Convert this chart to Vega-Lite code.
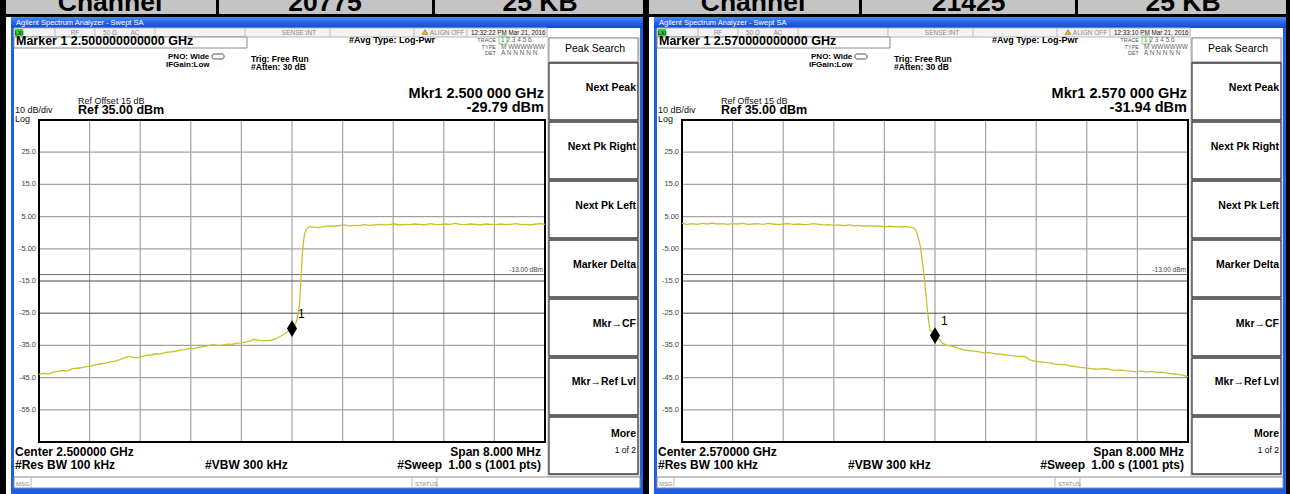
{
 "$schema": "https://vega.github.io/schema/vega-lite/v6.json",
 "width": 1290, "height": 494,
 "autosize": {"type": "none"},
 "padding": 0,
 "background": "#ffffff",
 "config": {"view": {"stroke": null}, "font": "Liberation Sans", "text": {"font": "Liberation Sans"}},
 "datasets": {
  "hgray": [{"f":-4.522,"f2":5.549,"db":76,"db2":67.92}],
  "blk": [
   {"f":-4.617,"f2":-4.522,"db":76,"db2":-86},
   {"f":5.549,"f2":5.644,"db":76,"db2":-86},
   {"f":-4.617,"f2":5.644,"db":67.92,"db2":66.99},
   {"f":-1.202,"f2":-1.154,"db":76,"db2":67.5},
   {"f":2.213,"f2":2.261,"db":76,"db2":67.5}
  ],
  "blue": [
   {"f":-4.443,"f2":-4.395,"db":66.99,"db2":-86},
   {"f":5.502,"f2":5.549,"db":66.99,"db2":-86},
   {"f":-4.443,"f2":5.549,"db":-79.29,"db2":-86}
  ],
  "tbar": [{"f":-4.443,"f2":5.549,"db":66.99,"db2":63.57}],
  "status": [{"f":-4.395,"f2":4.032,"db":63.57,"db2":60.78}],
  "col": [{"f":4.032,"f2":5.502,"db":60.78,"db2":-75.87}],
  "wbox": [
   {"f":-4.395,"f2":-0.711,"db":60.78,"db2":57.36},
   {"f":4.063,"f2":5.47,"db":60.47,"db2":53.01},
   {"f":-4.395,"f2":5.502,"db":-75.87,"db2":-79.29}
  ],
  "btn": [
   {"f":4.063,"f2":5.47,"db":52.7,"db2":35.0},
   {"f":4.063,"f2":5.47,"db":34.38,"db2":16.68},
   {"f":4.063,"f2":5.47,"db":16.06,"db2":-1.65},
   {"f":4.063,"f2":5.47,"db":-2.27,"db2":-19.97},
   {"f":4.063,"f2":5.47,"db":-20.59,"db2":-38.29},
   {"f":4.063,"f2":5.47,"db":-38.91,"db2":-56.61},
   {"f":4.063,"f2":5.47,"db":-57.24,"db2":-74.94}
  ],
  "lxi": [{"f":-4.379,"f2":-4.253,"db":63.26,"db2":61.09}],
  "hl": [{"f":3.273,"f2":3.399,"db":61.09,"db2":58.6}],
  "icon": [{"f":-1.265,"f2":-1.075,"db":55.5,"db2":53.94}],
  "sdiv": [
   {"f":-4.253,"db":63.57,"db2":60.78},{"f":-3.747,"db":63.57,"db2":60.78},{"f":-3.115,"db":63.57,"db2":60.78},
   {"f":-2.166,"db":63.57,"db2":60.78},{"f":-0.743,"db":63.57,"db2":60.78},{"f":0.601,"db":63.57,"db2":60.78},
   {"f":1.929,"db":63.57,"db2":60.78},{"f":2.767,"db":63.57,"db2":60.78}
  ],
  "mdiv": [{"f":-4.126,"db":-75.87,"db2":-79.29},{"f":1.897,"db":-75.87,"db2":-79.29},{"f":2.292,"db":-75.87,"db2":-79.29}],
  "vg": [
   {"f":-3.2,"db":-65,"db2":35},{"f":-2.4,"db":-65,"db2":35},{"f":-1.6,"db":-65,"db2":35},
   {"f":-0.8,"db":-65,"db2":35},{"f":0,"db":-65,"db2":35},{"f":0.8,"db":-65,"db2":35},
   {"f":1.6,"db":-65,"db2":35},{"f":2.4,"db":-65,"db2":35},{"f":3.2,"db":-65,"db2":35}
  ],
  "hg": [
   {"f":-4,"f2":4,"db":25},{"f":-4,"f2":4,"db":15},{"f":-4,"f2":4,"db":5},{"f":-4,"f2":4,"db":-5},
   {"f":-4,"f2":4,"db":-35},{"f":-4,"f2":4,"db":-45},{"f":-4,"f2":4,"db":-55}
  ],
  "hgd": [{"f":-4,"f2":4,"db":-15},{"f":-4,"f2":4,"db":-25}],
  "dl": [{"f":-4,"f2":4,"db":-13}],
  "frame": [{"f":-4,"f2":4,"db":-65,"db2":35}],
  "tri": [{"f":2.103,"db":62.33}],
  "mk": [{"p":"L","f":0,"db":-29.79},{"p":"R","f":0,"db":-31.94}],
  "trL": [
   {"f":-4.00,"db":-44.0},{"f":-3.92,"db":-43.7},{"f":-3.85,"db":-43.9},{"f":-3.78,"db":-43.3},{"f":-3.70,"db":-43.1},
   {"f":-3.62,"db":-42.8},{"f":-3.55,"db":-42.9},{"f":-3.48,"db":-42.3},{"f":-3.40,"db":-42.1},{"f":-3.32,"db":-41.9},
   {"f":-3.25,"db":-41.6},{"f":-3.18,"db":-41.4},{"f":-3.10,"db":-41.0},{"f":-3.02,"db":-40.7},{"f":-2.95,"db":-40.5},
   {"f":-2.88,"db":-40.1},{"f":-2.80,"db":-39.9},{"f":-2.72,"db":-39.4},{"f":-2.65,"db":-38.9},{"f":-2.60,"db":-38.5},
   {"f":-2.55,"db":-38.5},{"f":-2.50,"db":-38.8},{"f":-2.44,"db":-38.9},{"f":-2.38,"db":-38.5},{"f":-2.30,"db":-38.1},
   {"f":-2.22,"db":-37.9},{"f":-2.15,"db":-37.6},{"f":-2.08,"db":-37.7},{"f":-2.00,"db":-37.2},{"f":-1.92,"db":-37.0},
   {"f":-1.85,"db":-36.9},{"f":-1.78,"db":-36.5},{"f":-1.70,"db":-36.3},{"f":-1.62,"db":-35.9},{"f":-1.55,"db":-36.0},
   {"f":-1.48,"db":-35.6},{"f":-1.40,"db":-35.4},{"f":-1.32,"db":-35.1},{"f":-1.25,"db":-34.8},{"f":-1.18,"db":-35.0},
   {"f":-1.10,"db":-34.9},{"f":-1.02,"db":-34.6},{"f":-0.95,"db":-34.7},{"f":-0.88,"db":-34.4},{"f":-0.80,"db":-34.2},
   {"f":-0.72,"db":-33.9},{"f":-0.65,"db":-33.5},{"f":-0.60,"db":-33.1},{"f":-0.55,"db":-33.3},{"f":-0.48,"db":-33.6},
   {"f":-0.40,"db":-33.5},{"f":-0.33,"db":-33.4},{"f":-0.26,"db":-33.0},{"f":-0.20,"db":-32.4},{"f":-0.14,"db":-31.7},
   {"f":-0.08,"db":-30.9},{"f":-0.04,"db":-30.3},{"f":0.00,"db":-29.79},{"f":0.04,"db":-28.9},{"f":0.07,"db":-27.6},
   {"f":0.10,"db":-25.0},{"f":0.12,"db":-22.0},{"f":0.14,"db":-15.0},{"f":0.16,"db":-7.5},{"f":0.18,"db":-3.0},
   {"f":0.20,"db":-0.2},{"f":0.23,"db":1.2},{"f":0.28,"db":1.9},{"f":0.35,"db":1.7},{"f":0.42,"db":1.6},
   {"f":0.50,"db":1.9},{"f":0.58,"db":2.1},{"f":0.66,"db":2.0},{"f":0.74,"db":2.2},{"f":0.82,"db":2.4},
   {"f":0.90,"db":2.1},{"f":0.98,"db":2.3},{"f":1.06,"db":2.2},{"f":1.14,"db":2.5},{"f":1.22,"db":2.3},
   {"f":1.30,"db":2.4},{"f":1.38,"db":2.6},{"f":1.46,"db":2.4},{"f":1.54,"db":2.5},{"f":1.62,"db":2.7},
   {"f":1.70,"db":2.4},{"f":1.78,"db":2.6},{"f":1.86,"db":2.5},{"f":1.94,"db":2.7},{"f":2.02,"db":2.6},
   {"f":2.10,"db":2.4},{"f":2.18,"db":2.8},{"f":2.26,"db":2.6},{"f":2.34,"db":2.5},{"f":2.42,"db":2.7},
   {"f":2.50,"db":2.6},{"f":2.58,"db":2.9},{"f":2.66,"db":2.6},{"f":2.74,"db":2.5},{"f":2.82,"db":2.7},
   {"f":2.90,"db":2.6},{"f":2.98,"db":2.4},{"f":3.06,"db":2.7},{"f":3.14,"db":2.6},{"f":3.22,"db":2.5},
   {"f":3.30,"db":2.7},{"f":3.38,"db":2.5},{"f":3.46,"db":2.6},{"f":3.54,"db":2.8},{"f":3.62,"db":2.5},
   {"f":3.70,"db":2.6},{"f":3.78,"db":2.4},{"f":3.86,"db":2.7},{"f":3.94,"db":2.8},{"f":4.00,"db":2.6}
  ],
  "trR": [
   {"f":-4.00,"db":2.9},{"f":-3.92,"db":2.6},{"f":-3.84,"db":2.8},{"f":-3.76,"db":2.6},{"f":-3.68,"db":2.9},
   {"f":-3.60,"db":2.7},{"f":-3.52,"db":3.0},{"f":-3.44,"db":2.7},{"f":-3.36,"db":2.8},{"f":-3.28,"db":2.6},
   {"f":-3.20,"db":2.8},{"f":-3.12,"db":2.7},{"f":-3.04,"db":2.9},{"f":-2.96,"db":2.6},{"f":-2.88,"db":2.7},
   {"f":-2.80,"db":2.8},{"f":-2.72,"db":2.6},{"f":-2.64,"db":2.9},{"f":-2.56,"db":2.7},{"f":-2.48,"db":2.5},
   {"f":-2.40,"db":2.7},{"f":-2.32,"db":2.8},{"f":-2.24,"db":2.6},{"f":-2.16,"db":2.7},{"f":-2.08,"db":2.5},
   {"f":-2.00,"db":2.6},{"f":-1.92,"db":2.8},{"f":-1.84,"db":2.6},{"f":-1.76,"db":2.4},{"f":-1.68,"db":2.5},
   {"f":-1.60,"db":2.3},{"f":-1.52,"db":2.4},{"f":-1.44,"db":2.2},{"f":-1.36,"db":2.4},{"f":-1.28,"db":2.1},
   {"f":-1.20,"db":2.3},{"f":-1.12,"db":2.0},{"f":-1.04,"db":2.2},{"f":-0.96,"db":2.0},{"f":-0.88,"db":2.1},
   {"f":-0.80,"db":1.8},{"f":-0.72,"db":2.0},{"f":-0.64,"db":1.9},{"f":-0.56,"db":1.8},{"f":-0.48,"db":1.9},
   {"f":-0.40,"db":1.7},{"f":-0.35,"db":1.6},{"f":-0.32,"db":1.2},{"f":-0.29,"db":0.3},{"f":-0.26,"db":-2.0},
   {"f":-0.23,"db":-4.3},{"f":-0.20,"db":-9.0},{"f":-0.17,"db":-13.7},{"f":-0.145,"db":-19.0},{"f":-0.12,"db":-24.0},
   {"f":-0.10,"db":-27.5},{"f":-0.08,"db":-30.2},{"f":-0.05,"db":-30.8},{"f":-0.02,"db":-31.4},{"f":0.00,"db":-31.94},
   {"f":0.04,"db":-32.6},{"f":0.08,"db":-33.4},{"f":0.12,"db":-34.3},{"f":0.17,"db":-34.9},{"f":0.22,"db":-35.1},
   {"f":0.30,"db":-35.4},{"f":0.38,"db":-35.9},{"f":0.46,"db":-36.4},{"f":0.54,"db":-36.6},{"f":0.62,"db":-36.8},
   {"f":0.70,"db":-37.0},{"f":0.78,"db":-37.3},{"f":0.86,"db":-37.2},{"f":0.94,"db":-37.6},{"f":1.02,"db":-37.7},
   {"f":1.10,"db":-37.9},{"f":1.18,"db":-38.1},{"f":1.26,"db":-38.3},{"f":1.34,"db":-38.4},{"f":1.42,"db":-38.4},
   {"f":1.50,"db":-39.5},{"f":1.58,"db":-39.9},{"f":1.66,"db":-40.1},{"f":1.74,"db":-40.3},{"f":1.82,"db":-40.5},
   {"f":1.90,"db":-40.8},{"f":1.98,"db":-41.0},{"f":2.06,"db":-40.9},{"f":2.14,"db":-41.4},{"f":2.22,"db":-41.6},
   {"f":2.30,"db":-41.8},{"f":2.38,"db":-42.0},{"f":2.46,"db":-42.2},{"f":2.54,"db":-42.4},{"f":2.62,"db":-42.3},
   {"f":2.70,"db":-42.2},{"f":2.78,"db":-42.5},{"f":2.86,"db":-42.8},{"f":2.94,"db":-42.7},{"f":3.02,"db":-42.9},
   {"f":3.10,"db":-43.0},{"f":3.18,"db":-43.2},{"f":3.26,"db":-43.0},{"f":3.34,"db":-43.3},{"f":3.42,"db":-43.1},
   {"f":3.50,"db":-43.4},{"f":3.58,"db":-43.3},{"f":3.66,"db":-43.6},{"f":3.74,"db":-43.8},{"f":3.82,"db":-43.9},
   {"f":3.90,"db":-44.2},{"f":4.00,"db":-44.7}
  ],
  "t_hdr": [
   {"p":"B","f":-2.877,"db":68.85,"label":"Channel"},
   {"p":"L","f":0.522,"db":68.85,"label":"20775"},
   {"p":"R","f":0.53,"db":68.85,"label":"21425"},
   {"p":"B","f":3.921,"db":68.85,"label":"25 KB"}
  ],
  "t_title": [{"f":-4.364,"db":64.35,"label":"Agilent Spectrum Analyzer - Swept SA"}],
  "t_stat": [
   {"f":-3.431,"db":61.4,"label":"RF"},
   {"f":-2.877,"db":61.4,"label":"50 Ω"},
   {"f":-2.482,"db":61.4,"label":"AC"},
   {"f":0.111,"db":61.4,"label":"SENSE:INT"},
   {"f":2.451,"db":61.4,"label":"ALIGN OFF"}
  ],
  "t_lxi": [{"f":-4.316,"db":61.4,"label":"LXI"}],
  "t_time": [
   {"p":"L","f":2.83,"db":61.4,"label":"12:32:22 PM Mar 21, 2016"},
   {"p":"R","f":2.83,"db":61.4,"label":"12:33:10 PM Mar 21, 2016"}
  ],
  "t_mk": [
   {"p":"L","f":-4.364,"db":58.14,"label":"Marker 1 2.500000000000 GHz"},
   {"p":"R","f":-4.364,"db":58.14,"label":"Marker 1 2.570000000000 GHz"}
  ],
  "t_avg": [{"f":0.901,"db":58.91,"label":"#Avg Type: Log-Pwr"}],
  "t_trig": [
   {"f":-0.648,"db":53.01,"label":"Trig: Free Run"},
   {"f":-0.648,"db":50.53,"label":"#Atten: 30 dB"}
  ],
  "t_b8": [
   {"f":-1.96,"db":53.79,"label":"PNO: Wide"},
   {"f":-1.992,"db":51.46,"label":"IFGain:Low"}
  ],
  "t_trr": [
   {"f":3.225,"db":59.22,"label":"TRACE"},
   {"f":3.225,"db":57.2,"label":"TYPE"},
   {"f":3.225,"db":55.19,"label":"DET"}
  ],
  "t_trl": [
   {"f":3.304,"db":59.22,"label":"1 2 3 4 5 6"},
   {"f":3.304,"db":57.2,"label":"M WWWWWW"},
   {"f":3.304,"db":55.19,"label":"A N N N N N"}
  ],
  "t_mkr": [
   {"p":"L","f":3.984,"db":41.89,"label":"Mkr1 2.500 000 GHz"},
   {"p":"L","f":3.984,"db":37.39,"label":"-29.79 dBm"},
   {"p":"R","f":3.984,"db":41.89,"label":"Mkr1 2.570 000 GHz"},
   {"p":"R","f":3.984,"db":37.39,"label":"-31.94 dBm"}
  ],
  "t_r10": [
   {"f":-3.383,"db":40.12,"label":"Ref Offset 15 dB"},
   {"f":-4.379,"db":37.17,"label":"10 dB/div"},
   {"f":-4.379,"db":34.53,"label":"Log"}
  ],
  "t_ref": [{"f":-3.383,"db":36.71,"label":"Ref 35.00 dBm"}],
  "t_ylab": [
   {"f":-4.047,"db":25,"label":"25.0"},{"f":-4.047,"db":15,"label":"15.0"},{"f":-4.047,"db":5,"label":"5.00"},
   {"f":-4.047,"db":-5,"label":"-5.00"},{"f":-4.047,"db":-15,"label":"-15.0"},{"f":-4.047,"db":-25,"label":"-25.0"},
   {"f":-4.047,"db":-35,"label":"-35.0"},{"f":-4.047,"db":-45,"label":"-45.0"},{"f":-4.047,"db":-55,"label":"-55.0"}
  ],
  "t_dl": [{"f":3.968,"db":-12.2,"label":"-13.00 dBm"}],
  "t_botl": [
   {"p":"L","f":-4.379,"db":-69.35,"label":"Center 2.500000 GHz"},
   {"p":"R","f":-4.379,"db":-69.35,"label":"Center 2.570000 GHz"},
   {"p":"B","f":-4.379,"db":-73.54,"label":"#Res BW 100 kHz"},
   {"p":"B","f":-1.375,"db":-73.54,"label":"#VBW 300 kHz"}
  ],
  "t_botr": [
   {"f":3.937,"db":-69.35,"label":"Span 8.000 MHz"},
   {"f":2.372,"db":-73.54,"label":"#Sweep"},
   {"f":3.937,"db":-73.54,"label":"1.00 s (1001 pts)"}
  ],
  "t_msg": [{"f":-4.364,"db":-78.51,"label":"MSG"},{"f":1.945,"db":-78.51,"label":"STATUS"}],
  "t_ps": [{"f":4.791,"db":57.05,"label":"Peak Search"}],
  "t_btn": [
   {"f":5.439,"db":44.94,"label":"Next Peak"},
   {"f":5.439,"db":26.61,"label":"Next Pk Right"},
   {"f":5.439,"db":8.29,"label":"Next Pk Left"},
   {"f":5.439,"db":-10.03,"label":"Marker Delta"},
   {"f":5.439,"db":-28.35,"label":"Mkr→CF"},
   {"f":5.439,"db":-46.37,"label":"Mkr→Ref Lvl"},
   {"f":5.439,"db":-62.52,"label":"More"}
  ],
  "t_1of2": [{"f":5.439,"db":-67.48,"label":"1 of 2"}]
 },
 "resolve": {"scale": {"x": "independent"}},
 "layer": [
  {
   "encoding": {
    "x": {"field": "f", "type": "quantitative", "scale": {"domain": [-4, 4], "range": [39, 545], "nice": false, "zero": false}, "axis": null},
    "y": {"field": "db", "type": "quantitative", "scale": {"domain": [-65, 35], "range": [442, 120], "nice": false, "zero": false}, "axis": null}
   },
   "layer": [
    {"data": {"name": "hgray"}, "mark": {"type": "rect", "fill": "#c4c4c4"}, "encoding": {"x2": {"field": "f2"}, "y2": {"field": "db2"}}},
    {"data": {"name": "blk"}, "mark": {"type": "rect", "fill": "#000000"}, "encoding": {"x2": {"field": "f2"}, "y2": {"field": "db2"}}},
    {"data": {"name": "blue"}, "mark": {"type": "rect", "fill": "#1f5fe6"}, "encoding": {"x2": {"field": "f2"}, "y2": {"field": "db2"}}},
    {"data": {"name": "tbar"}, "mark": {"type": "rect", "fill": {"gradient": "linear", "x1": 0, "y1": 0, "x2": 0, "y2": 1, "stops": [{"offset": 0, "color": "#4d8af8"}, {"offset": 0.5, "color": "#2663ea"}, {"offset": 1, "color": "#1549cf"}]}}, "encoding": {"x2": {"field": "f2"}, "y2": {"field": "db2"}}},
    {"data": {"name": "status"}, "mark": {"type": "rect", "fill": "#f3f3f3", "stroke": "#b5b5b5", "strokeWidth": 1}, "encoding": {"x2": {"field": "f2"}, "y2": {"field": "db2"}}},
    {"data": {"name": "col"}, "mark": {"type": "rect", "fill": "#dadada"}, "encoding": {"x2": {"field": "f2"}, "y2": {"field": "db2"}}},
    {"data": {"name": "wbox"}, "mark": {"type": "rect", "fill": "#ffffff", "stroke": "#8a8a8a", "strokeWidth": 1}, "encoding": {"x2": {"field": "f2"}, "y2": {"field": "db2"}}},
    {"data": {"name": "btn"}, "mark": {"type": "rect", "fill": "#ffffff", "stroke": "#3c3c3c", "strokeWidth": 1.3}, "encoding": {"x2": {"field": "f2"}, "y2": {"field": "db2"}}},
    {"data": {"name": "lxi"}, "mark": {"type": "rect", "fill": "#2fd12f"}, "encoding": {"x2": {"field": "f2"}, "y2": {"field": "db2"}}},
    {"data": {"name": "hl"}, "mark": {"type": "rect", "fill": "transparent", "stroke": "#7fcf7f", "strokeWidth": 1}, "encoding": {"x2": {"field": "f2"}, "y2": {"field": "db2"}}},
    {"data": {"name": "icon"}, "mark": {"type": "rect", "fill": "#ffffff", "stroke": "#555555", "strokeWidth": 1, "cornerRadius": 2}, "encoding": {"x2": {"field": "f2"}, "y2": {"field": "db2"}}},
    {"data": {"name": "sdiv"}, "mark": {"type": "rule", "stroke": "#bdbdbd", "strokeWidth": 1}, "encoding": {"y2": {"field": "db2"}}},
    {"data": {"name": "mdiv"}, "mark": {"type": "rule", "stroke": "#bdbdbd", "strokeWidth": 1}, "encoding": {"y2": {"field": "db2"}}},
    {"data": {"name": "vg"}, "mark": {"type": "rule", "stroke": "#a3a3a3", "strokeWidth": 1.2}, "encoding": {"y2": {"field": "db2"}}},
    {"data": {"name": "hg"}, "mark": {"type": "rule", "stroke": "#a3a3a3", "strokeWidth": 1.2}, "encoding": {"x2": {"field": "f2"}}},
    {"data": {"name": "hgd"}, "mark": {"type": "rule", "stroke": "#4a4a4a", "strokeWidth": 1}, "encoding": {"x2": {"field": "f2"}}},
    {"data": {"name": "dl"}, "mark": {"type": "rule", "stroke": "#6e6e6e", "strokeWidth": 1}, "encoding": {"x2": {"field": "f2"}}},
    {"data": {"name": "frame"}, "mark": {"type": "rect", "fill": "transparent", "stroke": "#000000", "strokeWidth": 2}, "encoding": {"x2": {"field": "f2"}, "y2": {"field": "db2"}}},
    {"data": {"name": "trL"}, "mark": {"type": "line", "stroke": "#c4c42a", "strokeWidth": 1.3}, "encoding": {}},
    {"data": {"name": "mk"}, "transform": [{"filter": "datum.p != 'R'"}], "mark": {"type": "point", "shape": "M0,-1L0.6,0L0,1L-0.6,0Z", "filled": true, "fill": "#000000", "opacity": 1, "size": 280, "dy": -8}, "encoding": {}},
    {"data": {"name": "mk"}, "transform": [{"filter": "datum.p != 'R'"}], "mark": {"type": "text", "text": "1", "fontSize": 12, "align": "left", "baseline": "alphabetic", "dx": 6, "dy": -11, "color": "#000000"}, "encoding": {}},
    {"data": {"name": "tri"}, "mark": {"type": "point", "shape": "triangle-up", "filled": true, "fill": "#f2c200", "stroke": "#444444", "strokeWidth": 0.5, "opacity": 1, "size": 30}, "encoding": {}},
    {"data": {"name": "t_hdr"}, "transform": [{"filter": "datum.p != 'R'"}], "mark": {"type": "text", "fontSize": 26.5, "fontWeight": "bold", "align": "center", "baseline": "alphabetic", "color": "#000000"}, "encoding": {"text": {"field": "label"}}},
    {"data": {"name": "t_title"}, "mark": {"type": "text", "fontSize": 7.5, "align": "left", "baseline": "alphabetic", "color": "#ffffff"}, "encoding": {"text": {"field": "label"}}},
    {"data": {"name": "t_stat"}, "mark": {"type": "text", "fontSize": 6.5, "align": "center", "baseline": "alphabetic", "color": "#8a8a8a"}, "encoding": {"text": {"field": "label"}}},
    {"data": {"name": "t_lxi"}, "mark": {"type": "text", "fontSize": 5.5, "fontWeight": "bold", "align": "center", "baseline": "alphabetic", "color": "#0a4a0a"}, "encoding": {"text": {"field": "label"}}},
    {"data": {"name": "t_time"}, "transform": [{"filter": "datum.p != 'R'"}], "mark": {"type": "text", "fontSize": 6.3, "align": "left", "baseline": "alphabetic", "color": "#222222"}, "encoding": {"text": {"field": "label"}}},
    {"data": {"name": "t_mk"}, "transform": [{"filter": "datum.p != 'R'"}], "mark": {"type": "text", "fontSize": 12.5, "fontWeight": "bold", "align": "left", "baseline": "alphabetic", "color": "#000000"}, "encoding": {"text": {"field": "label"}}},
    {"data": {"name": "t_avg"}, "mark": {"type": "text", "fontSize": 9, "fontWeight": "bold", "align": "left", "baseline": "alphabetic", "color": "#000000"}, "encoding": {"text": {"field": "label"}}},
    {"data": {"name": "t_trig"}, "mark": {"type": "text", "fontSize": 8.5, "fontWeight": "bold", "align": "left", "baseline": "alphabetic", "color": "#000000"}, "encoding": {"text": {"field": "label"}}},
    {"data": {"name": "t_b8"}, "mark": {"type": "text", "fontSize": 8, "fontWeight": "bold", "align": "left", "baseline": "alphabetic", "color": "#000000"}, "encoding": {"text": {"field": "label"}}},
    {"data": {"name": "t_trr"}, "mark": {"type": "text", "fontSize": 5.5, "align": "right", "baseline": "alphabetic", "color": "#555555"}, "encoding": {"text": {"field": "label"}}},
    {"data": {"name": "t_trl"}, "mark": {"type": "text", "fontSize": 6.5, "align": "left", "baseline": "alphabetic", "color": "#666666", "letterSpacing": 0.6}, "encoding": {"text": {"field": "label"}}},
    {"data": {"name": "t_mkr"}, "transform": [{"filter": "datum.p != 'R'"}], "mark": {"type": "text", "fontSize": 14.5, "fontWeight": "bold", "align": "right", "baseline": "alphabetic", "color": "#000000"}, "encoding": {"text": {"field": "label"}}},
    {"data": {"name": "t_r10"}, "mark": {"type": "text", "fontSize": 9, "align": "left", "baseline": "alphabetic", "color": "#111111"}, "encoding": {"text": {"field": "label"}}},
    {"data": {"name": "t_ref"}, "mark": {"type": "text", "fontSize": 12.5, "fontWeight": "bold", "align": "left", "baseline": "alphabetic", "color": "#000000"}, "encoding": {"text": {"field": "label"}}},
    {"data": {"name": "t_ylab"}, "mark": {"type": "text", "fontSize": 7.5, "align": "right", "baseline": "middle", "color": "#444444"}, "encoding": {"text": {"field": "label"}}},
    {"data": {"name": "t_dl"}, "mark": {"type": "text", "fontSize": 6.5, "align": "right", "baseline": "alphabetic", "color": "#444444"}, "encoding": {"text": {"field": "label"}}},
    {"data": {"name": "t_botl"}, "transform": [{"filter": "datum.p != 'R'"}], "mark": {"type": "text", "fontSize": 12, "fontWeight": "bold", "align": "left", "baseline": "alphabetic", "color": "#000000"}, "encoding": {"text": {"field": "label"}}},
    {"data": {"name": "t_botr"}, "mark": {"type": "text", "fontSize": 12, "fontWeight": "bold", "align": "right", "baseline": "alphabetic", "color": "#000000"}, "encoding": {"text": {"field": "label"}}},
    {"data": {"name": "t_msg"}, "mark": {"type": "text", "fontSize": 6, "align": "left", "baseline": "alphabetic", "color": "#888888"}, "encoding": {"text": {"field": "label"}}},
    {"data": {"name": "t_ps"}, "mark": {"type": "text", "fontSize": 10.5, "align": "center", "baseline": "middle", "color": "#000000"}, "encoding": {"text": {"field": "label"}}},
    {"data": {"name": "t_btn"}, "mark": {"type": "text", "fontSize": 10.5, "fontWeight": "bold", "align": "right", "baseline": "middle", "color": "#000000"}, "encoding": {"text": {"field": "label"}}},
    {"data": {"name": "t_1of2"}, "mark": {"type": "text", "fontSize": 8.5, "align": "right", "baseline": "middle", "color": "#000000"}, "encoding": {"text": {"field": "label"}}}
   ]
  },
  {
   "encoding": {
    "x": {"field": "f", "type": "quantitative", "scale": {"domain": [-4, 4], "range": [682, 1188], "nice": false, "zero": false}, "axis": null},
    "y": {"field": "db", "type": "quantitative", "scale": {"domain": [-65, 35], "range": [442, 120], "nice": false, "zero": false}, "axis": null}
   },
   "layer": [
    {"data": {"name": "hgray"}, "mark": {"type": "rect", "fill": "#c4c4c4"}, "encoding": {"x2": {"field": "f2"}, "y2": {"field": "db2"}}},
    {"data": {"name": "blk"}, "mark": {"type": "rect", "fill": "#000000"}, "encoding": {"x2": {"field": "f2"}, "y2": {"field": "db2"}}},
    {"data": {"name": "blue"}, "mark": {"type": "rect", "fill": "#1f5fe6"}, "encoding": {"x2": {"field": "f2"}, "y2": {"field": "db2"}}},
    {"data": {"name": "tbar"}, "mark": {"type": "rect", "fill": {"gradient": "linear", "x1": 0, "y1": 0, "x2": 0, "y2": 1, "stops": [{"offset": 0, "color": "#4d8af8"}, {"offset": 0.5, "color": "#2663ea"}, {"offset": 1, "color": "#1549cf"}]}}, "encoding": {"x2": {"field": "f2"}, "y2": {"field": "db2"}}},
    {"data": {"name": "status"}, "mark": {"type": "rect", "fill": "#f3f3f3", "stroke": "#b5b5b5", "strokeWidth": 1}, "encoding": {"x2": {"field": "f2"}, "y2": {"field": "db2"}}},
    {"data": {"name": "col"}, "mark": {"type": "rect", "fill": "#dadada"}, "encoding": {"x2": {"field": "f2"}, "y2": {"field": "db2"}}},
    {"data": {"name": "wbox"}, "mark": {"type": "rect", "fill": "#ffffff", "stroke": "#8a8a8a", "strokeWidth": 1}, "encoding": {"x2": {"field": "f2"}, "y2": {"field": "db2"}}},
    {"data": {"name": "btn"}, "mark": {"type": "rect", "fill": "#ffffff", "stroke": "#3c3c3c", "strokeWidth": 1.3}, "encoding": {"x2": {"field": "f2"}, "y2": {"field": "db2"}}},
    {"data": {"name": "lxi"}, "mark": {"type": "rect", "fill": "#2fd12f"}, "encoding": {"x2": {"field": "f2"}, "y2": {"field": "db2"}}},
    {"data": {"name": "hl"}, "mark": {"type": "rect", "fill": "transparent", "stroke": "#7fcf7f", "strokeWidth": 1}, "encoding": {"x2": {"field": "f2"}, "y2": {"field": "db2"}}},
    {"data": {"name": "icon"}, "mark": {"type": "rect", "fill": "#ffffff", "stroke": "#555555", "strokeWidth": 1, "cornerRadius": 2}, "encoding": {"x2": {"field": "f2"}, "y2": {"field": "db2"}}},
    {"data": {"name": "sdiv"}, "mark": {"type": "rule", "stroke": "#bdbdbd", "strokeWidth": 1}, "encoding": {"y2": {"field": "db2"}}},
    {"data": {"name": "mdiv"}, "mark": {"type": "rule", "stroke": "#bdbdbd", "strokeWidth": 1}, "encoding": {"y2": {"field": "db2"}}},
    {"data": {"name": "vg"}, "mark": {"type": "rule", "stroke": "#a3a3a3", "strokeWidth": 1.2}, "encoding": {"y2": {"field": "db2"}}},
    {"data": {"name": "hg"}, "mark": {"type": "rule", "stroke": "#a3a3a3", "strokeWidth": 1.2}, "encoding": {"x2": {"field": "f2"}}},
    {"data": {"name": "hgd"}, "mark": {"type": "rule", "stroke": "#4a4a4a", "strokeWidth": 1}, "encoding": {"x2": {"field": "f2"}}},
    {"data": {"name": "dl"}, "mark": {"type": "rule", "stroke": "#6e6e6e", "strokeWidth": 1}, "encoding": {"x2": {"field": "f2"}}},
    {"data": {"name": "frame"}, "mark": {"type": "rect", "fill": "transparent", "stroke": "#000000", "strokeWidth": 2}, "encoding": {"x2": {"field": "f2"}, "y2": {"field": "db2"}}},
    {"data": {"name": "trR"}, "mark": {"type": "line", "stroke": "#c4c42a", "strokeWidth": 1.3}, "encoding": {}},
    {"data": {"name": "mk"}, "transform": [{"filter": "datum.p != 'L'"}], "mark": {"type": "point", "shape": "M0,-1L0.6,0L0,1L-0.6,0Z", "filled": true, "fill": "#000000", "opacity": 1, "size": 280, "dy": -8}, "encoding": {}},
    {"data": {"name": "mk"}, "transform": [{"filter": "datum.p != 'L'"}], "mark": {"type": "text", "text": "1", "fontSize": 12, "align": "left", "baseline": "alphabetic", "dx": 6, "dy": -11, "color": "#000000"}, "encoding": {}},
    {"data": {"name": "tri"}, "mark": {"type": "point", "shape": "triangle-up", "filled": true, "fill": "#f2c200", "stroke": "#444444", "strokeWidth": 0.5, "opacity": 1, "size": 30}, "encoding": {}},
    {"data": {"name": "t_hdr"}, "transform": [{"filter": "datum.p != 'L'"}], "mark": {"type": "text", "fontSize": 26.5, "fontWeight": "bold", "align": "center", "baseline": "alphabetic", "color": "#000000"}, "encoding": {"text": {"field": "label"}}},
    {"data": {"name": "t_title"}, "mark": {"type": "text", "fontSize": 7.5, "align": "left", "baseline": "alphabetic", "color": "#ffffff"}, "encoding": {"text": {"field": "label"}}},
    {"data": {"name": "t_stat"}, "mark": {"type": "text", "fontSize": 6.5, "align": "center", "baseline": "alphabetic", "color": "#8a8a8a"}, "encoding": {"text": {"field": "label"}}},
    {"data": {"name": "t_lxi"}, "mark": {"type": "text", "fontSize": 5.5, "fontWeight": "bold", "align": "center", "baseline": "alphabetic", "color": "#0a4a0a"}, "encoding": {"text": {"field": "label"}}},
    {"data": {"name": "t_time"}, "transform": [{"filter": "datum.p != 'L'"}], "mark": {"type": "text", "fontSize": 6.3, "align": "left", "baseline": "alphabetic", "color": "#222222"}, "encoding": {"text": {"field": "label"}}},
    {"data": {"name": "t_mk"}, "transform": [{"filter": "datum.p != 'L'"}], "mark": {"type": "text", "fontSize": 12.5, "fontWeight": "bold", "align": "left", "baseline": "alphabetic", "color": "#000000"}, "encoding": {"text": {"field": "label"}}},
    {"data": {"name": "t_avg"}, "mark": {"type": "text", "fontSize": 9, "fontWeight": "bold", "align": "left", "baseline": "alphabetic", "color": "#000000"}, "encoding": {"text": {"field": "label"}}},
    {"data": {"name": "t_trig"}, "mark": {"type": "text", "fontSize": 8.5, "fontWeight": "bold", "align": "left", "baseline": "alphabetic", "color": "#000000"}, "encoding": {"text": {"field": "label"}}},
    {"data": {"name": "t_b8"}, "mark": {"type": "text", "fontSize": 8, "fontWeight": "bold", "align": "left", "baseline": "alphabetic", "color": "#000000"}, "encoding": {"text": {"field": "label"}}},
    {"data": {"name": "t_trr"}, "mark": {"type": "text", "fontSize": 5.5, "align": "right", "baseline": "alphabetic", "color": "#555555"}, "encoding": {"text": {"field": "label"}}},
    {"data": {"name": "t_trl"}, "mark": {"type": "text", "fontSize": 6.5, "align": "left", "baseline": "alphabetic", "color": "#666666", "letterSpacing": 0.6}, "encoding": {"text": {"field": "label"}}},
    {"data": {"name": "t_mkr"}, "transform": [{"filter": "datum.p != 'L'"}], "mark": {"type": "text", "fontSize": 14.5, "fontWeight": "bold", "align": "right", "baseline": "alphabetic", "color": "#000000"}, "encoding": {"text": {"field": "label"}}},
    {"data": {"name": "t_r10"}, "mark": {"type": "text", "fontSize": 9, "align": "left", "baseline": "alphabetic", "color": "#111111"}, "encoding": {"text": {"field": "label"}}},
    {"data": {"name": "t_ref"}, "mark": {"type": "text", "fontSize": 12.5, "fontWeight": "bold", "align": "left", "baseline": "alphabetic", "color": "#000000"}, "encoding": {"text": {"field": "label"}}},
    {"data": {"name": "t_ylab"}, "mark": {"type": "text", "fontSize": 7.5, "align": "right", "baseline": "middle", "color": "#444444"}, "encoding": {"text": {"field": "label"}}},
    {"data": {"name": "t_dl"}, "mark": {"type": "text", "fontSize": 6.5, "align": "right", "baseline": "alphabetic", "color": "#444444"}, "encoding": {"text": {"field": "label"}}},
    {"data": {"name": "t_botl"}, "transform": [{"filter": "datum.p != 'L'"}], "mark": {"type": "text", "fontSize": 12, "fontWeight": "bold", "align": "left", "baseline": "alphabetic", "color": "#000000"}, "encoding": {"text": {"field": "label"}}},
    {"data": {"name": "t_botr"}, "mark": {"type": "text", "fontSize": 12, "fontWeight": "bold", "align": "right", "baseline": "alphabetic", "color": "#000000"}, "encoding": {"text": {"field": "label"}}},
    {"data": {"name": "t_msg"}, "mark": {"type": "text", "fontSize": 6, "align": "left", "baseline": "alphabetic", "color": "#888888"}, "encoding": {"text": {"field": "label"}}},
    {"data": {"name": "t_ps"}, "mark": {"type": "text", "fontSize": 10.5, "align": "center", "baseline": "middle", "color": "#000000"}, "encoding": {"text": {"field": "label"}}},
    {"data": {"name": "t_btn"}, "mark": {"type": "text", "fontSize": 10.5, "fontWeight": "bold", "align": "right", "baseline": "middle", "color": "#000000"}, "encoding": {"text": {"field": "label"}}},
    {"data": {"name": "t_1of2"}, "mark": {"type": "text", "fontSize": 8.5, "align": "right", "baseline": "middle", "color": "#000000"}, "encoding": {"text": {"field": "label"}}}
   ]
  }
 ]
}
